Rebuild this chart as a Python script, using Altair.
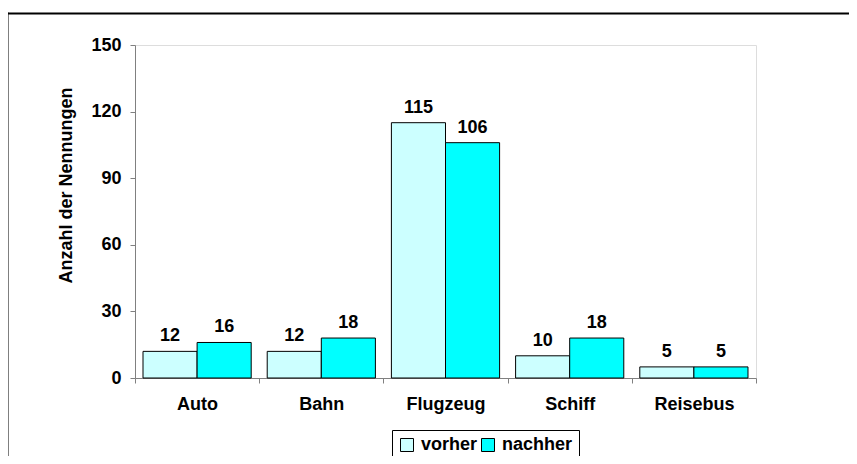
import altair as alt
import pandas as pd

categories = ["Auto", "Bahn", "Flugzeug", "Schiff", "Reisebus"]
vorher = [12, 12, 115, 10, 5]
nachher = [16, 18, 106, 18, 5]
series = ["vorher", "nachher"]
colors = ["#CCFFFF", "#00FFFF"]
y_ticks = [0, 30, 60, 90, 120, 150]

rows = []
for c, v, n in zip(categories, vorher, nachher):
    rows.append({"Kategorie": c, "Serie": "vorher", "Wert": v})
    rows.append({"Kategorie": c, "Serie": "nachher", "Wert": n})
df = pd.DataFrame(rows)

FONT = "Liberation Sans"

x_enc = alt.X("Kategorie:N", sort=categories,
              scale=alt.Scale(paddingInner=0, paddingOuter=0),
              axis=alt.Axis(title=None, labelAngle=0, tickBand="extent",
                            domainColor="#808080", tickColor="#808080",
                            tickSize=5, labelPadding=12,
                            labelFont=FONT, labelFontSize=18,
                            labelFontWeight="bold", labelColor="black"))
xo_enc = alt.XOffset("Serie:N", sort=series,
                     scale=alt.Scale(paddingInner=0, paddingOuter=0.148))
y_enc = alt.Y("Wert:Q", scale=alt.Scale(domain=[0, 150], nice=False),
              axis=alt.Axis(title="Anzahl der Nennungen", values=y_ticks,
                            grid=False, domainColor="#808080",
                            tickColor="#808080", tickSize=5, labelPadding=9,
                            labelFont=FONT, labelFontSize=18,
                            labelFontWeight="bold", labelColor="black",
                            titleFont=FONT, titleFontSize=18,
                            titleFontWeight="bold", titleColor="black",
                            titleAngle=-90, titleBaseline="alphabetic",
                            titleX=-64, titleY=140, titleAlign="center"))

base = alt.Chart(df)

bars = base.mark_bar(stroke="black", strokeWidth=1).encode(
    x=x_enc,
    xOffset=xo_enc,
    y=y_enc,
    color=alt.Color("Serie:N", sort=series,
                    scale=alt.Scale(domain=series, range=colors),
                    legend=alt.Legend(title=None, orient="none",
                                      direction="horizontal",
                                      legendX=257, legendY=385,
                                      strokeColor="black", padding=6,
                                      symbolType="square", symbolSize=169,
                                      symbolStrokeColor="black",
                                      symbolStrokeWidth=1,
                                      symbolOpacity=1,
                                      labelOffset=5, columnPadding=1,
                                      labelFont=FONT, labelFontSize=18,
                                      labelFontWeight="bold",
                                      labelColor="black")),
)

labels = base.mark_text(baseline="alphabetic", dy=-10, font=FONT,
                        fontSize=18, fontWeight="bold", color="black").encode(
    x=alt.X("Kategorie:N", sort=categories),
    xOffset=alt.XOffset("Serie:N", sort=series),
    y="Wert:Q",
    text="Wert:Q",
)

frame_df = pd.DataFrame({"f": [0]})
frame_top = alt.Chart(frame_df).mark_rule(color="black", strokeWidth=2).encode(
    x=alt.value(-128.5), x2=alt.value(740),
    y=alt.value(-31.5),
)
frame_left = alt.Chart(frame_df).mark_rule(color="black", strokeWidth=2).encode(
    x=alt.value(-127.5),
    y=alt.value(-32.5), y2=alt.value(430),
)

chart = alt.layer(frame_top, frame_left, bars, labels).properties(
    width=621, height=333,
    padding={"left": 127, "top": 37, "right": 93, "bottom": 78},
    autosize=alt.AutoSizeParams(type="none"),
).configure_view(strokeWidth=0).configure(background="white")

chart.save("out.html", embed_options={"renderer": "svg", "actions": False})
